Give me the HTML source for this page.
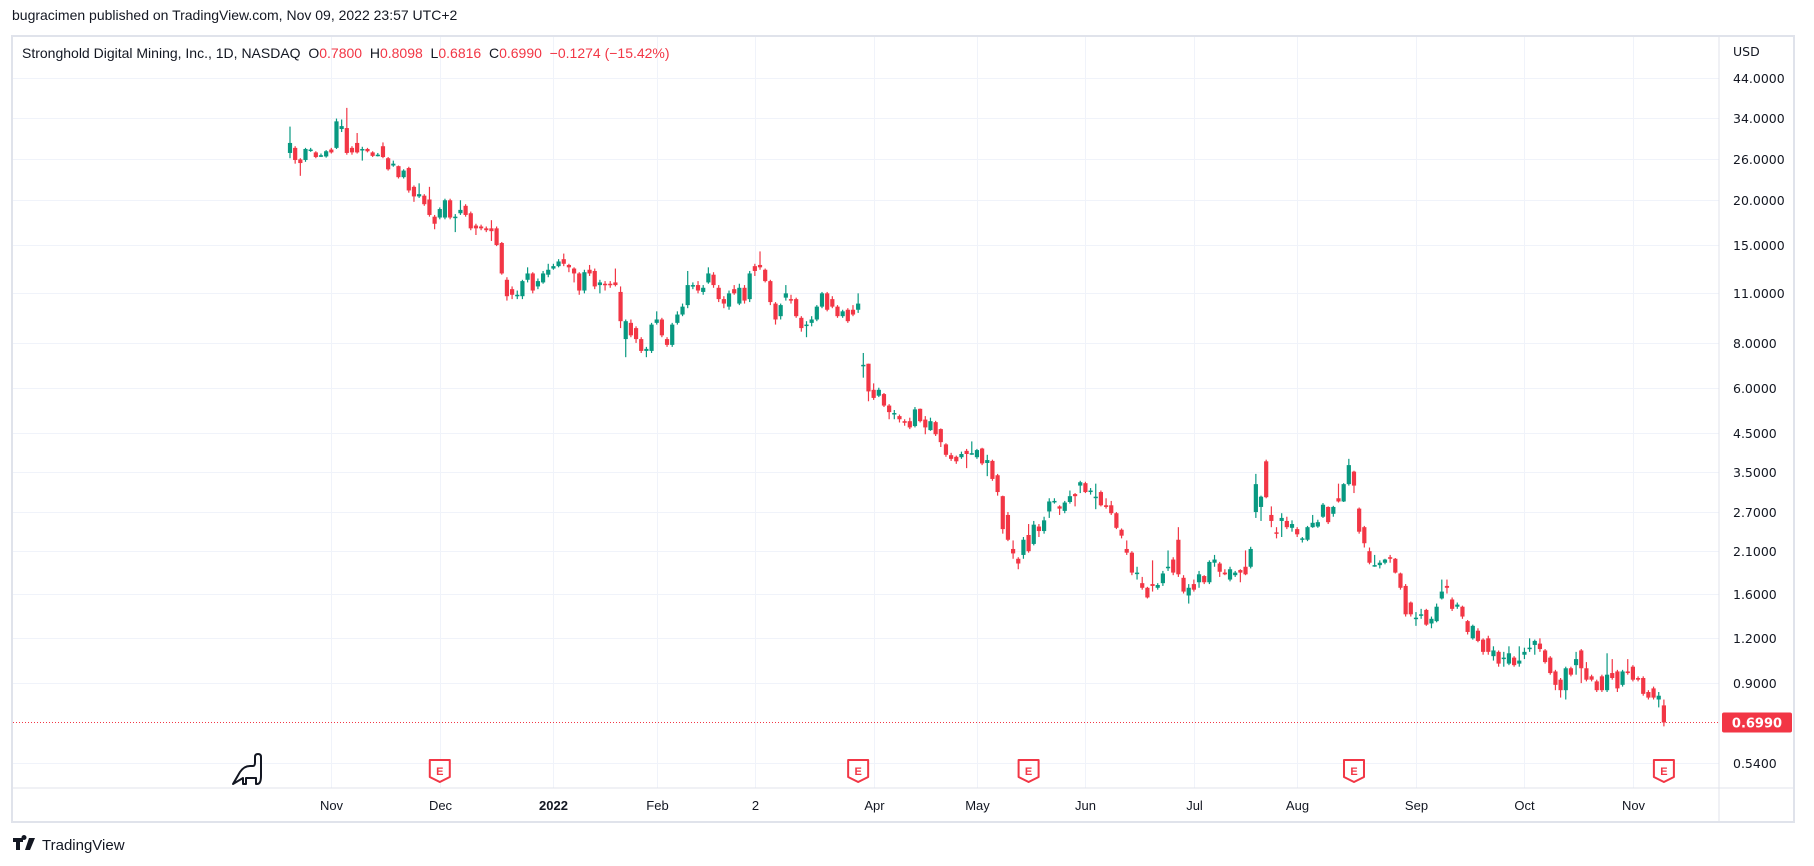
<!DOCTYPE html>
<html><head><meta charset="utf-8">
<style>
body{margin:0;background:#fff;font-family:"Liberation Sans",sans-serif;}
#wrap{position:relative;width:1814px;height:866px;overflow:hidden;background:#fff;}
</style></head>
<body>
<div id="wrap">
<svg id="svg" width="1814" height="866" xmlns="http://www.w3.org/2000/svg">
<text x="12" y="20" font-size="14" fill="#131722" font-family="Liberation Sans, sans-serif">bugracimen published on TradingView.com, Nov 09, 2022 23:57 UTC+2</text>
<rect x="12" y="36" width="1782" height="786" fill="#fff" stroke="#e0e3eb" stroke-width="2"/>
<g id="grid"></g>
<g id="candles"></g>
<line x1="1719" y1="37" x2="1719" y2="821" stroke="#e0e3eb" stroke-width="1"/>
<line x1="13" y1="788" x2="1793" y2="788" stroke="#e0e3eb" stroke-width="1"/>
<g id="axes"></g>
<text x="22" y="58" font-size="14" fill="#131722" font-family="Liberation Sans, sans-serif" style="white-space:pre">Stronghold Digital Mining, Inc., 1D, NASDAQ  O<tspan fill="#f23645">0.7800</tspan>  H<tspan fill="#f23645">0.8098</tspan>  L<tspan fill="#f23645">0.6816</tspan>  C<tspan fill="#f23645">0.6990  −0.1274 (−15.42%)</tspan></text>
<text x="1733" y="56" font-size="12.5" fill="#131722" font-family="DejaVu Sans, sans-serif">USD</text>
<g fill="none" stroke="#131722" stroke-width="2" stroke-linejoin="round">
<path d="M233 784 L240 772 Q244 766 250 766 L253 766 Q255 766 255 762 L255 757 Q255 754 258 754 Q261 754 261 757 L261 776 Q261 784 257 784 L256 784 L256 778 L246 778 L246 784 L243 784 L243 778 Z"/>
</g>
<g id="earn"></g>
<g>
<path d="M13 838 h10 v4 h-3 v8 h-4 v-8 h-3z M24 840 a2.5 2.5 0 1 1 0.01 0z M29 838 h6 l-5 12 h-5z" fill="#131722"/>
<text x="42" y="850" font-size="15" fill="#131722" font-family="Liberation Sans, sans-serif">TradingView</text>
</g>
</svg>
</div>
<script>
const opens=[27.1,28.0,26.0,25.9,27.6,27.2,26.7,26.5,27.7,28.0,31.6,31.8,28.0,28.9,27.8,27.8,27.2,26.8,28.3,26.2,25.0,24.9,23.2,24.6,21.8,20.5,20.6,20.1,18.0,17.9,17.9,20.0,18.0,18.4,19.3,18.4,17.0,16.9,16.7,16.7,16.7,15.2,12.0,11.3,10.9,10.8,12.0,12.5,11.5,11.8,12.4,12.9,13.1,13.7,13.2,12.9,12.5,11.2,12.8,12.7,11.6,11.7,11.7,11.8,11.1,8.2,9.1,8.8,8.2,7.6,7.6,9.1,9.3,8.2,7.9,9.1,9.6,10.2,11.5,11.6,11.1,11.8,12.4,11.4,10.6,10.1,11.3,10.3,11.4,10.6,13.1,13.2,12.8,11.9,10.3,9.5,10.7,10.6,10.6,9.4,9.0,9.1,9.3,10.1,11.0,10.6,10.1,9.5,9.9,9.9,9.9,6.9,7.0,5.92,5.7,5.76,5.35,5.1,5.0,4.84,4.84,4.69,5.24,4.89,4.57,4.81,4.6,4.17,3.89,3.85,3.84,4.0,3.94,3.84,4.06,3.7,3.75,3.42,2.99,2.65,2.13,2.0,2.05,2.33,2.2,2.46,2.39,2.71,2.88,2.8,2.72,2.88,3.03,3.2,3.25,3.1,2.98,3.07,2.82,2.82,2.68,2.41,2.13,2.08,1.83,1.71,1.66,1.70,1.66,1.71,1.9,1.99,2.26,1.77,1.58,1.70,1.72,1.79,1.72,1.95,1.94,1.83,1.75,1.8,1.86,1.9,1.9,2.7,2.79,3.74,2.65,2.37,2.55,2.55,2.44,2.42,2.28,2.26,2.45,2.46,2.62,2.79,2.67,2.95,2.89,3.23,3.5,2.76,2.45,2.1,1.92,1.92,1.95,2.02,2.0,1.82,1.68,1.51,1.36,1.4,1.44,1.32,1.34,1.55,1.68,1.54,1.47,1.47,1.34,1.2,1.26,1.19,1.2,1.07,1.1,1.06,1.02,1.06,1.02,1.08,1.13,1.15,1.16,1.11,1.06,0.97,0.92,0.86,0.99,1.01,1.11,0.99,0.94,0.91,0.94,0.86,0.96,0.97,0.89,0.97,1.0,0.93,0.93,0.85,0.87,0.81,0.78];
const closes=[28.9,25.9,25.4,27.8,27.7,26.4,26.7,27.4,27.2,33.2,32.2,27.1,27.2,27.2,27.8,27.4,26.6,26.8,26.4,24.4,25.3,23.2,24.2,21.3,20.5,20.8,19.5,18.2,17.2,18.9,20.0,17.9,18.0,18.8,18.2,16.7,16.7,16.7,16.5,16.4,15.0,12.5,10.8,10.9,10.9,11.9,12.5,11.2,11.9,12.5,12.8,13.1,13.5,13.3,13.0,12.5,11.2,12.6,12.5,11.5,11.8,11.6,11.6,11.6,9.2,9.2,8.4,8.2,7.6,7.7,9.0,9.3,8.4,7.9,9.0,9.6,10.1,11.6,11.6,11.2,11.4,12.5,11.6,10.6,10.3,11.0,11.0,11.4,10.5,12.5,12.7,13.0,11.9,10.4,9.3,10.2,11.0,10.5,9.5,8.8,9.0,9.3,10.1,11.0,9.9,10.1,9.5,9.8,9.2,9.6,10.3,6.95,5.86,5.62,5.92,5.35,5.13,5.1,4.9,4.79,4.65,5.22,4.84,4.65,4.84,4.45,4.23,3.9,3.8,3.74,3.92,3.92,3.94,4.02,3.69,3.77,3.34,3.07,2.42,2.26,2.07,1.94,2.26,2.10,2.49,2.39,2.56,2.89,2.9,2.76,2.87,2.99,2.99,3.27,3.07,3.1,2.98,2.82,2.79,2.68,2.44,2.32,2.08,1.83,1.83,1.66,1.56,1.68,1.69,1.82,1.9,1.83,1.81,1.62,1.66,1.64,1.81,1.72,1.96,1.99,1.84,1.81,1.87,1.83,1.83,1.81,2.13,3.23,2.98,2.97,2.55,2.36,2.6,2.45,2.5,2.34,2.28,2.45,2.52,2.53,2.83,2.53,2.79,2.89,3.23,3.65,3.2,2.38,2.21,1.95,1.92,1.95,1.99,2.0,1.83,1.66,1.40,1.40,1.37,1.4,1.31,1.36,1.47,1.62,1.66,1.45,1.49,1.38,1.25,1.3,1.18,1.1,1.1,1.11,1.02,1.06,1.09,1.01,1.04,1.1,1.13,1.18,1.12,1.03,0.96,0.89,0.86,0.99,0.95,1.05,0.99,0.92,0.92,0.86,0.86,0.95,0.93,0.87,0.97,0.96,0.92,0.92,0.84,0.82,0.82,0.83,0.699];
const highs=[32.1,28.3,26.2,28.0,28.0,27.4,27.0,27.6,28.0,33.8,33.6,36.2,28.3,30.8,28.2,28.0,27.4,27.1,29.0,26.4,25.8,25.0,24.4,24.8,22.0,22.3,20.8,21.8,18.2,19.1,20.2,20.2,18.3,20.0,19.5,18.6,17.2,17.1,16.9,17.6,16.9,15.3,12.2,11.5,11.2,12.0,13.0,12.6,12.1,12.7,13.3,13.3,13.7,14.2,13.3,13.0,12.6,12.8,13.2,12.9,12.0,11.9,11.9,12.9,11.5,9.3,9.3,8.9,8.3,7.8,9.1,9.8,9.4,8.3,9.1,9.8,10.3,12.7,11.8,11.9,11.6,13.0,12.6,11.6,10.8,11.2,11.6,11.7,11.6,12.7,13.3,14.4,12.9,12.0,10.4,10.3,11.6,10.9,10.7,9.5,9.2,9.5,10.2,11.1,11.1,10.8,10.2,9.9,10.0,10.2,11.0,7.5,7.0,6.17,6.0,5.8,5.4,5.2,5.05,4.9,4.95,5.3,5.25,5.0,4.95,4.85,4.62,4.2,3.95,3.88,3.98,4.05,4.25,4.05,4.08,3.9,3.78,3.45,3.0,2.7,2.25,2.02,2.3,2.5,2.55,2.5,2.62,2.95,2.95,2.82,2.9,3.1,3.05,3.3,3.28,3.15,3.24,3.1,2.95,2.9,2.7,2.43,2.25,2.1,1.9,1.78,1.67,1.98,1.71,1.85,2.11,2.02,2.45,1.8,1.7,1.75,1.85,1.8,1.98,2.05,1.96,1.87,1.9,1.85,1.87,2.11,2.16,3.45,3.0,3.78,2.8,2.45,2.68,2.62,2.56,2.45,2.3,2.47,2.65,2.57,2.86,2.8,2.81,3.24,3.25,3.8,3.52,2.78,2.47,2.15,2.05,1.98,2.0,2.05,2.01,1.83,1.7,1.52,1.42,1.45,1.45,1.38,1.5,1.75,1.75,1.56,1.51,1.48,1.35,1.31,1.28,1.2,1.22,1.14,1.11,1.1,1.14,1.07,1.14,1.13,1.2,1.19,1.2,1.12,1.07,0.98,0.93,1.0,1.0,1.1,1.12,1.03,0.95,0.92,0.95,1.09,1.05,0.98,0.98,1.05,1.01,0.94,0.94,0.86,0.88,0.85,0.8098];
const lows=[26.2,25.3,23.4,25.6,27.3,26.2,26.4,26.3,27.0,27.8,31.0,26.8,26.8,27.0,25.8,27.2,26.4,26.5,26.2,24.2,24.8,23.0,23.0,21.0,19.8,20.3,19.3,18.0,16.6,17.7,17.7,17.7,16.3,18.2,18.0,16.5,16.0,16.5,16.3,15.4,14.9,12.4,10.5,10.6,10.6,10.6,11.8,11.0,11.3,11.7,12.2,12.8,13.0,13.1,12.6,11.8,10.9,11.0,12.3,11.3,11.0,11.2,11.4,11.5,8.8,7.3,8.3,8.0,7.5,7.3,7.5,9.0,8.3,7.8,7.8,9.0,9.5,10.0,11.3,11.0,10.9,11.7,11.4,10.4,10.0,9.9,10.9,10.2,10.3,10.4,12.3,12.8,11.8,10.2,9.0,9.3,10.5,10.3,9.4,8.6,8.3,8.9,9.2,10.0,9.8,10.0,9.4,9.4,9.1,9.5,9.7,6.4,5.5,5.55,5.65,5.3,4.9,4.9,4.8,4.7,4.6,4.65,4.8,4.45,4.55,4.4,4.1,3.85,3.75,3.68,3.8,3.58,3.9,3.8,3.65,3.4,3.3,3.0,2.35,2.24,2.0,1.87,2.0,2.08,2.18,2.3,2.35,2.6,2.85,2.65,2.68,2.85,2.8,3.05,3.05,3.02,2.75,2.8,2.76,2.65,2.42,2.28,2.05,1.8,1.75,1.64,1.55,1.62,1.64,1.68,1.85,1.8,1.78,1.6,1.5,1.62,1.66,1.7,1.7,1.9,1.78,1.8,1.73,1.78,1.72,1.8,1.88,2.6,2.55,2.95,2.45,2.28,2.3,2.42,2.38,2.3,2.22,2.24,2.44,2.44,2.6,2.5,2.62,2.87,2.88,3.2,3.05,2.35,2.15,1.93,1.9,1.88,1.93,1.95,1.82,1.64,1.38,1.38,1.3,1.36,1.3,1.28,1.33,1.54,1.6,1.43,1.45,1.36,1.23,1.19,1.17,1.08,1.08,1.04,1.0,1.0,1.01,1.0,1.0,1.05,1.1,1.08,1.1,1.02,0.95,0.86,0.82,0.81,0.94,0.95,0.9,0.91,0.91,0.85,0.85,0.85,0.92,0.85,0.88,0.95,0.91,0.91,0.83,0.81,0.81,0.77,0.6816];
const priceTicks=[44,34,26,20,15,11,8,6,4.5,3.5,2.7,2.1,1.6,1.2,0.9,0.54];
const monthLabels=["Nov","Dec","2022","Feb","2","Apr","May","Jun","Jul","Aug","Sep","Oct","Nov"];
const monthStartIdx=[8,29,51,71,90,113,133,154,175,195,218,239,260];
const earningsIdx=[29,110,143,206,266];
const lastPrice=0.699;

const NS="http://www.w3.org/2000/svg";
const X0=290,STEP=5.165;
function xOf(i){return X0+i*STEP;}
function yOf(p){return 77.5+(Math.log(44)-Math.log(p))*155.7;}
function mk(tag,attrs,parent){const e=document.createElementNS(NS,tag);for(const k in attrs)e.setAttribute(k,attrs[k]);parent.appendChild(e);return e;}
const grid=document.getElementById('grid'),axes=document.getElementById('axes'),cg=document.getElementById('candles'),eg=document.getElementById('earn');

priceTicks.forEach(p=>{const y=Math.round(yOf(p))+0.5;
 const l=mk('line',{x1:13,x2:1719,y1:y,y2:y,stroke:'#f0f3fa','stroke-width':1},grid);
 
 
 const t=mk('text',{x:1733,y:y+4.5,'font-size':12.5,fill:'#131722','font-family':'DejaVu Sans, sans-serif'},axes);
 t.textContent=p.toFixed(4);
 
 
});
monthStartIdx.forEach((ix,k)=>{const x=Math.round(xOf(ix))+0.5;
 const l=mk('line',{x1:x,x2:x,y1:37,y2:788,stroke:'#f0f3fa','stroke-width':1},grid);
 
 
 const t=mk('text',{x:x,y:810,'font-size':13,fill:'#131722','text-anchor':'middle','font-family':'Liberation Sans, sans-serif','font-weight':monthLabels[k]==='2022'?'bold':'normal'},axes);
 t.textContent=monthLabels[k];
 
 
});
closes.forEach((c,i)=>{const o=opens[i],h=highs[i],l=lows[i];const up=c>=o;const col=up?'#089981':'#f23645';
 const x=xOf(i);const g=mk('g',{},cg);
 
 
 mk('line',{x1:x,x2:x,y1:yOf(h),y2:yOf(l),stroke:col,'stroke-width':1.2},g);
 const yt=yOf(Math.max(o,c)),yb=yOf(Math.min(o,c));
 mk('rect',{x:x-2.1,y:yt,width:4.2,height:Math.max(1.5,yb-yt),fill:col},g);
});
const yl=yOf(lastPrice);
const dl=mk('line',{x1:13,x2:1719,y1:yl,y2:yl,stroke:'#f23645','stroke-width':1,'stroke-dasharray':'1 2'},axes);


const lb=mk('rect',{x:1722,y:yl-10,width:70,height:20,rx:2,fill:'#f23645'},axes);


const lt=mk('text',{x:1757,y:yl+5,'font-size':13,fill:'#fff','text-anchor':'middle','font-weight':'bold','font-family':'DejaVu Sans, sans-serif'},axes);
lt.textContent=lastPrice.toFixed(4);


earningsIdx.forEach(ix=>{const x=xOf(ix);const g=mk('g',{},eg);
 
 
 mk('path',{d:`M${x-10} 760 h20 v17 l-10 5 l-10 -5 z`,fill:'#fff',stroke:'#f23645','stroke-width':2,'stroke-linejoin':'round'},g);
 const t=mk('text',{x:x,y:775,'font-size':11,'font-weight':'bold',fill:'#f23645','text-anchor':'middle','font-family':'Liberation Sans, sans-serif'},g);
 t.textContent='E';
});
</script>
</body></html>
